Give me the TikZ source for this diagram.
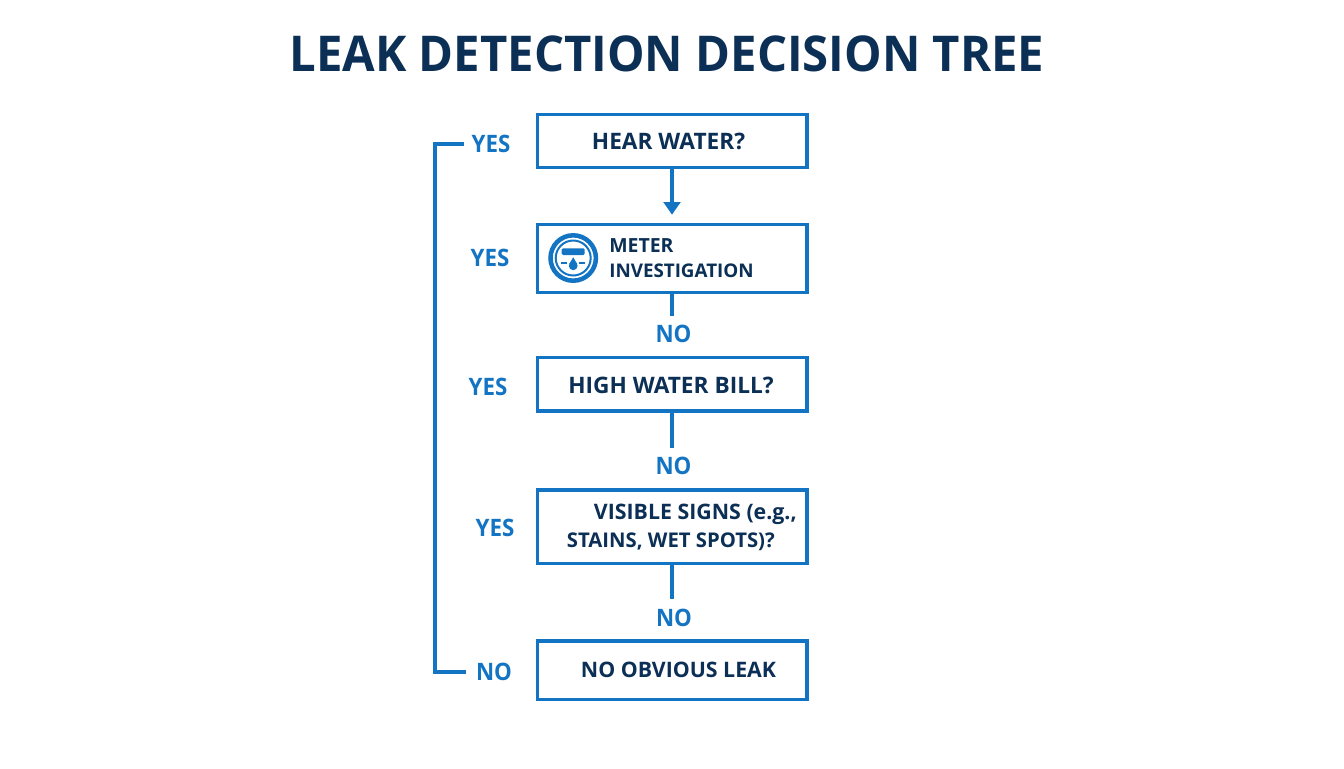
\documentclass[tikz,border=0pt]{standalone}
\usepackage{fontspec}
\setmainfont{Open Sans}
\newfontfamily\condfont[FakeStretch=0.958]{Open Sans}
\newfontfamily\labfont[FakeStretch=0.93]{Open Sans}
\usetikzlibrary{arrows.meta,calc}
\definecolor{navy}{HTML}{0B2F55}
\definecolor{blu}{HTML}{1474C4}
\tikzset{
  box/.style={draw=blu,line width=2.6pt,fill=white,inner sep=0pt,anchor=north west,minimum width=201.9pt},
  txt/.style={text=navy,font=\bfseries\fontsize{17}{20}\selectfont,inner sep=0pt,align=left},
  txtsmall/.style={text=navy,font=\bfseries\fontsize{14.6}{18}\selectfont,inner sep=0pt,align=left},
  txtinv/.style={text=navy,font=\bfseries\fontsize{14.1}{18}\selectfont,inner sep=0pt,align=left},
  txtstain/.style={text=navy,font=\bfseries\fontsize{15.2}{18}\selectfont,inner sep=0pt,align=left},
  txtmid/.style={text=navy,font=\bfseries\fontsize{16}{18}\selectfont,inner sep=0pt,align=left},
  lab/.style={text=blu,font=\labfont\bfseries\fontsize{18}{20}\selectfont,inner sep=1pt},
  conn/.style={draw=blu,line width=2.3pt},
}
\begin{document}
\begin{tikzpicture}[x=0.75pt,y=-0.75pt]
\useasboundingbox (0,0) rectangle (1344,768);
\fill[white] (0,0) rectangle (1344,768);
\node[text=navy,font=\condfont\bfseries\fontsize{37}{40}\selectfont,inner sep=0pt] (title) at (667,54) {LEAK DETECTION DECISION TREE};
\node[box,minimum height=39.8pt] (b1) at (536,112.7) {};
\node[box,minimum height=50.9pt] (b2) at (536,222.7) {};
\node[box,minimum height=40.1pt] (b3) at (536,356) {};
\node[box,minimum height=55.1pt] (b4) at (536,488.3) {};
\node[box,minimum height=43.9pt] (b5) at (536,639.3) {};
\node[txt] (t1) at (668.5,141) {HEAR WATER?};
\node[txtsmall,anchor=west] (t2a) at (609,245.8) {METER};
\node[txtinv,anchor=west] (t2b) at (609,270.8) {INVESTIGATION};
\node[txt] (t3) at (671,385) {HIGH WATER BILL?};
\node[txtmid,anchor=east] (t4a) at (797,514.8) {VISIBLE SIGNS (e.g.,};
\node[txtstain,anchor=east] (t4b) at (775,541.7) {STAINS, WET SPOTS)?};
\node[txtmid] (t5) at (678.5,670) {NO OBVIOUS LEAK};
\node[lab] (y1) at (491,144) {YES};
\node[lab] (y2) at (490,258) {YES};
\node[lab] (y3) at (488,387) {YES};
\node[lab] (y4) at (495,528) {YES};
\node[lab] (n5) at (494,672) {NO};
\node[lab] (n2) at (673.5,334) {NO};
\node[lab] (n3) at (673.5,466) {NO};
\node[lab] (n4) at (674,618) {NO};
\draw[conn,-{Triangle[width=12.5pt,length=9.5pt]},shorten >=6pt] (b1.south -| 672,0) -- (b2.north -| 672,0);
\draw[conn] (b2.south -| 672,0) -- (672,316);
\draw[conn] (b3.south -| 672,0) -- (672,448);
\draw[conn] (b4.south -| 672,0) -- (672,599);
\draw[conn,line join=miter] ($(y1.west)+(-6,0)$) -- (435,144) -- (435,672) -- ($(n5.west)+(-8,0)$);
% meter icon
\begin{scope}[shift={(573.2,258)}]
\draw[blu,line width=3.4pt] (0,0) circle (22.7);
\draw[blu,line width=1.5pt] (0,0) circle (17.5);
\fill[blu,rounded corners=1pt] (-11.5,-9.7) rectangle (11.5,-3);
\draw[blu,line width=1.2pt] (-12,4.7) -- (-6,4.7) (6,4.7) -- (12,4.7);
\fill[blu] (0,7.8) circle (4.4);
\fill[blu] (0,-0.7) -- (4,6) -- (-4,6) -- cycle;
\end{scope}
\end{tikzpicture}
\end{document}
